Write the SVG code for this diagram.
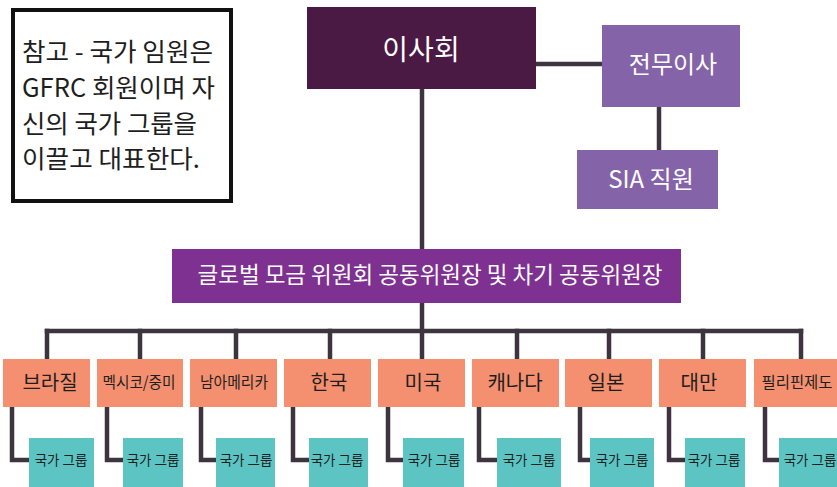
<svg xmlns="http://www.w3.org/2000/svg" width="837" height="487" viewBox="0 0 837 487">
<style>
text{font-family:"Noto Sans CJK KR","Noto Sans",sans-serif;}
.w{fill:#ffffff;text-anchor:middle;}
.k{fill:#1e1e1e;}
.c{text-anchor:middle;}
.org{fill:#f4906f;}
.teal{fill:#5cc5c4;}
.lbl{font-size:16px;}
.big{font-size:20px;}
.grp{font-size:13.5px;fill:#1e1e1e;text-anchor:middle;}
.note{font-size:25px;fill:#1e1e1e;}
.ln{fill:none;stroke:#3d3440;stroke-width:4.5;stroke-linejoin:miter;stroke-linecap:square;}
</style>
<rect width="837" height="487" fill="#ffffff"/>
<g id="note">
<rect x="13" y="10" width="218" height="191" fill="#ffffff" stroke="#111111" stroke-width="4"/>
<text class="note" x="22" y="61" textLength="191" lengthAdjust="spacingAndGlyphs">참고 - 국가 임원은</text>
<text class="note" x="22" y="97" textLength="193" lengthAdjust="spacingAndGlyphs">GFRC 회원이며 자</text>
<text class="note" x="22" y="133" textLength="175" lengthAdjust="spacingAndGlyphs">신의 국가 그룹을</text>
<text class="note" x="22" y="168" textLength="178" lengthAdjust="spacingAndGlyphs">이끌고 대표한다.</text>
</g>
<g id="connectors">
<path class="ln" d="M536 64 H602"/>
<path class="ln" d="M659 107 V150"/>
<path class="ln" d="M422 89 V249 M422 303 V359"/>
<path class="ln" d="M47 331 H801"/>
<path class="ln" d="M47 331 V359 M140 331 V359 M236 331 V359 M330 331 V359 M517 331 V359 M609 331 V359 M703 331 V359 M801 331 V359"/>
<path class="ln" d="M12 407 V460 H29"/>
<path class="ln" d="M107 407 V460 H123"/>
<path class="ln" d="M201 407 V460 H216"/>
<path class="ln" d="M293 407 V460 H309"/>
<path class="ln" d="M388 407 V460 H403"/>
<path class="ln" d="M479 407 V460 H497"/>
<path class="ln" d="M580 407 V460 H590"/>
<path class="ln" d="M669 407 V460 H685"/>
<path class="ln" d="M765 407 V460 H779"/>
</g>
<g id="board">
<rect x="307" y="7" width="229" height="82" fill="#4a1944"/>
<text class="w" x="421" y="60" font-size="28">이사회</text>
</g>
<g id="executive-director">
<rect x="602" y="25" width="138" height="82" fill="#8463a9"/>
<text class="w" x="673" y="73" font-size="24">전무이사</text>
</g>
<g id="sia-staff">
<rect x="577" y="150" width="141" height="59" fill="#8463a9"/>
<text class="w" x="651" y="188" font-size="24">SIA 직원</text>
</g>
<g id="co-chairs">
<rect x="172" y="249" width="509" height="54" fill="#7e3190"/>
<text class="w" x="430" y="283" font-size="22.5" textLength="465" lengthAdjust="spacingAndGlyphs">글로벌 모금 위원회 공동위원장 및 차기 공동위원장</text>
</g>
<g id="brazil">
<rect class="org" x="3" y="359" width="87" height="48"/>
<text class="k c big" x="50" y="390">브라질</text>
</g>
<g id="mexico">
<rect class="org" x="97" y="359" width="86" height="48"/>
<text class="k c lbl" x="139" y="388" textLength="73" lengthAdjust="spacingAndGlyphs">멕시코/중미</text>
</g>
<g id="south-america">
<rect class="org" x="190" y="359" width="87" height="48"/>
<text class="k c lbl" x="234" y="388" textLength="68" lengthAdjust="spacingAndGlyphs">남아메리카</text>
</g>
<g id="korea">
<rect class="org" x="284" y="359" width="87" height="48"/>
<text class="k c big" x="329" y="390">한국</text>
</g>
<g id="usa">
<rect class="org" x="378" y="359" width="87" height="48"/>
<text class="k c big" x="423" y="390">미국</text>
</g>
<g id="canada">
<rect class="org" x="472" y="359" width="87" height="48"/>
<text class="k c big" x="515" y="390">캐나다</text>
</g>
<g id="japan">
<rect class="org" x="565" y="359" width="87" height="48"/>
<text class="k c big" x="606" y="390">일본</text>
</g>
<g id="taiwan">
<rect class="org" x="659" y="359" width="87" height="48"/>
<text class="k c big" x="699" y="390">대만</text>
</g>
<g id="philippines">
<rect class="org" x="754" y="359" width="90" height="48"/>
<text class="k c lbl" x="797" y="388" textLength="71" lengthAdjust="spacingAndGlyphs">필리핀제도</text>
</g>
<g id="group-1"><rect class="teal" x="29" y="438" width="65" height="55"/><text class="grp" x="61" y="465">국가 그룹</text></g>
<g id="group-2"><rect class="teal" x="123" y="438" width="60" height="55"/><text class="grp" x="153" y="465">국가 그룹</text></g>
<g id="group-3"><rect class="teal" x="216" y="438" width="59" height="55"/><text class="grp" x="246" y="465">국가 그룹</text></g>
<g id="group-4"><rect class="teal" x="309" y="438" width="59" height="55"/><text class="grp" x="337" y="465">국가 그룹</text></g>
<g id="group-5"><rect class="teal" x="403" y="438" width="61" height="55"/><text class="grp" x="434" y="465">국가 그룹</text></g>
<g id="group-6"><rect class="teal" x="497" y="438" width="64" height="55"/><text class="grp" x="529" y="465">국가 그룹</text></g>
<g id="group-7"><rect class="teal" x="590" y="438" width="64" height="55"/><text class="grp" x="622" y="465">국가 그룹</text></g>
<g id="group-8"><rect class="teal" x="685" y="438" width="60" height="55"/><text class="grp" x="714" y="465">국가 그룹</text></g>
<g id="group-9"><rect class="teal" x="779" y="438" width="65" height="55"/><text class="grp" x="810" y="465">국가 그룹</text></g>
</svg>
